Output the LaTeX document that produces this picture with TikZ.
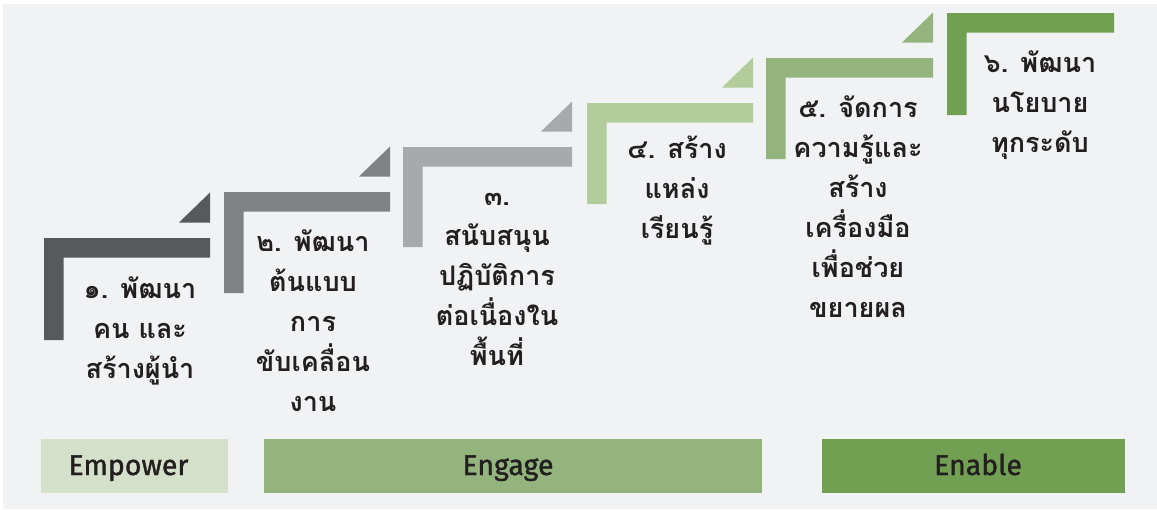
\documentclass[tikz,border=0pt]{standalone}
\usepackage{fontspec}
\newfontfamily\thaifont[Script=Thai]{Loma}
\newfontfamily\labelfont[FakeBold=1.2]{Fira Sans}

\definecolor{bgpanel}{HTML}{F1F2F4}
\definecolor{inkdark}{HTML}{231F20}
\definecolor{stepA}{HTML}{58595B}
\definecolor{stepB}{HTML}{808184}
\definecolor{stepC}{HTML}{A7A9AC}
\definecolor{stepD}{HTML}{B3CC9C}
\definecolor{stepE}{HTML}{93B57D}
\definecolor{stepF}{HTML}{72A052}
\definecolor{phaseA}{HTML}{D5E0CB}

% L-shaped stair step: #1 colour, #2 left x, #3 top y, #4 right x, #5 bottom y
\newcommand{\stairstep}[5]{%
  \fill[#1] (#2,#3) -- (#4,#3) -- (#4,#3+19.5) -- (#2+19.5,#3+19.5)
            -- (#2+19.5,#5) -- (#2,#5) -- cycle;}
% small corner triangle above the right end of a step
\newcommand{\stairtip}[3]{%
  \fill[#1] (#2,#3-45.5) -- (#2,#3-15.5) -- (#2-31,#3-15.5) -- cycle;}

\tikzset{
  steptext/.style={text=inkdark, align=center, inner sep=0pt,
    font=\thaifont\bfseries\fontsize{27}{40}\selectfont},
  phasebox/.style={anchor=base, inner sep=0pt, text=inkdark,
    font=\labelfont\fontsize{28.5}{32}\selectfont}
}

\begin{document}
\begin{tikzpicture}[x=1pt,y=-1pt]
  \useasboundingbox (0,0) rectangle (1157,509);
  \fill[white] (0,0) rectangle (1157,509);
  \fill[bgpanel] (3,4) rectangle (1157,509);

  % stairs
  \stairstep{stepA}{44}{238}{210}{340}
  \stairtip{stepA}{210}{238}
  \stairstep{stepB}{224}{192}{390}{293}
  \stairtip{stepB}{390}{192}
  \stairstep{stepC}{403}{147}{572}{247}
  \stairtip{stepC}{572}{147}
  \stairstep{stepD}{587}{103}{753}{204}
  \stairtip{stepD}{753}{103}
  \stairstep{stepE}{766}{58}{933}{159}
  \stairtip{stepE}{933}{58}
  \stairstep{stepF}{947}{13}{1114}{115}

  % step captions
  \node[steptext] (s1) at (140,331) {๑. พัฒนา\\คน และ\\สร้างผู้นำ};
  \node[steptext] (s2) at (313,321) {๒. พัฒนา\\ต้นแบบ\\การ\\ขับเคลื่อน\\งาน};
  \node[steptext] (s3) at (497,279) {๓.\\สนับสนุน\\ปฏิบัติการ\\ต่อเนื่องใน\\พื้นที่};
  \node[steptext] (s4) at (677,191) {๔. สร้าง\\แหล่ง\\เรียนรู้};
  \node[steptext] (s5) at (858,207) {๕. จัดการ\\ความรู้และ\\สร้าง\\เครื่องมือ\\เพื่อช่วย\\ขยายผล};
  \node[steptext] (s6) at (1040,105) {๖. พัฒนา\\นโยบาย\\ทุกระดับ};

  % phase bars
  \fill[phaseA] (41,439) rectangle (228,493);
  \fill[stepE] (264,439) rectangle (762,493);
  \fill[stepF] (822,439) rectangle (1125,493);
  \node[phasebox] (p1) at (128.5,475) {Empower};
  \node[phasebox] (p2) at (508,475) {Engage};
  \node[phasebox] (p3) at (978,475) {Enable};
\end{tikzpicture}
\end{document}
